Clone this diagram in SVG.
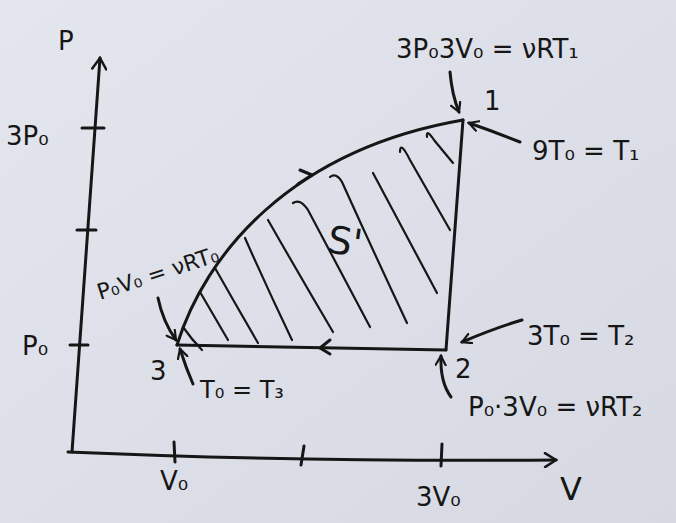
<svg xmlns="http://www.w3.org/2000/svg" width="676" height="523" viewBox="0 0 676 523">
<defs>
<linearGradient id="bg" x1="0" y1="0" x2="1" y2="1">
<stop offset="0" stop-color="#e4e6ee"/>
<stop offset="1" stop-color="#d6d9e2"/>
</linearGradient>
<marker id="ah" viewBox="0 0 12 12" refX="10" refY="6" markerWidth="12" markerHeight="12" markerUnits="userSpaceOnUse" orient="auto">
<path d="M1,1 L10,6 L1,11" fill="none" stroke="#161616" stroke-width="2.2" stroke-linecap="round"/>
</marker>
<marker id="axh" viewBox="0 0 16 16" refX="13" refY="8" markerWidth="16" markerHeight="16" markerUnits="userSpaceOnUse" orient="auto">
<path d="M2,1 L13,8 L2,15" fill="none" stroke="#161616" stroke-width="2.5" stroke-linecap="round"/>
</marker>
</defs>
<style>
.ln{fill:none;stroke:#161616;stroke-width:3;stroke-linecap:round;stroke-linejoin:round}
.th{fill:none;stroke:#161616;stroke-width:2.2;stroke-linecap:round}
.t{font-family:"DejaVu Sans","Liberation Sans",sans-serif;fill:#161616;font-size:26px}
.s{font-family:"DejaVu Sans","Liberation Sans",sans-serif;fill:#161616;font-size:22px}
</style>
<rect width="676" height="523" fill="url(#bg)"/>

<g id="axes">
<path class="ln" d="M72,452 L100,58" marker-end="url(#axh)"/>
<path class="ln" d="M68,452 Q300,462 556,460" marker-end="url(#axh)"/>
<path class="ln" d="M82,128 L104,128"/>
<path class="ln" d="M77,230 L96,230"/>
<path class="ln" d="M70,345 L88,345"/>
<path class="ln" d="M174,442 L175,462"/>
<path class="ln" d="M304,446 L301,465"/>
<path class="ln" d="M442,444 L441,466"/>
<text class="t" x="58" y="50">P</text>
<text class="t" x="6" y="145">3P₀</text>
<text class="t" x="22" y="355">P₀</text>
<text class="t" x="160" y="490">V₀</text>
<text class="t" x="416" y="506">3V₀</text>
<text class="t" x="560" y="500" style="font-size:32px">V</text>
</g>

<g id="region">
<path class="th" d="M183,327 Q192,340 202,350"/>
<path class="th" d="M200,292 Q214,316 228,340"/>
<path class="th" d="M215,268 Q236,305 258,343"/>
<path class="th" d="M245,238 Q268,290 292,340"/>
<path class="th" d="M268,220 Q300,276 333,332"/>
<path class="th" d="M293,203 Q300,198 308,210 Q340,270 370,327"/>
<path class="th" d="M330,177 Q336,172 342,182 Q375,255 407,323"/>
<path class="th" d="M373,173 Q405,233 437,293"/>
<path class="th" d="M400,152 Q400,140 410,160 Q430,195 450,230"/>
<path class="th" d="M427,137 Q426,128 434,140 L453,163"/>
<text class="t" x="328" y="254" style="font-size:38px" transform="rotate(8 340 240)">S'</text>
</g>

<g id="connectors">
<path class="ln" d="M177,345 C205,255 290,150 463,120"/>
<path class="ln" d="M463,120 L446,350"/>
<path class="ln" d="M446,350 L177,345"/>
<path class="ln" d="M298,184 L312,175 L300,170"/>
<path class="ln" d="M330,340 L320,348 L330,354"/>
<path class="ln" d="M450,72 Q452,95 459,112" marker-end="url(#ah)"/>
<path class="ln" d="M520,142 Q495,132 469,123" marker-end="url(#ah)"/>
<path class="ln" d="M522,320 Q495,328 462,342" marker-end="url(#ah)"/>
<path class="ln" d="M451,397 Q440,382 441,356" marker-end="url(#ah)"/>
<path class="ln" d="M158,298 Q163,322 176,340" marker-end="url(#ah)"/>
<path class="ln" d="M193,384 Q186,368 180,349" marker-end="url(#ah)"/>
</g>

<g id="point1">
<text class="t" x="396" y="58">3P₀3V₀ = νRT₁</text>
<text class="t" x="484" y="110">1</text>
<text class="t" x="532" y="160">9T₀ = T₁</text>
</g>

<g id="point2">
<text class="t" x="527" y="345">3T₀ = T₂</text>
<text class="t" x="455" y="378">2</text>
<text class="t" x="468" y="416">P₀·3V₀ = νRT₂</text>
</g>

<g id="point3">
<text class="s" x="100" y="300" transform="rotate(-18 100 300)">P₀V₀ = νRT₀</text>
<text class="t" x="150" y="380">3</text>
<text class="t" x="200" y="398" style="font-size:24px">T₀ = T₃</text>
</g>
</svg>
